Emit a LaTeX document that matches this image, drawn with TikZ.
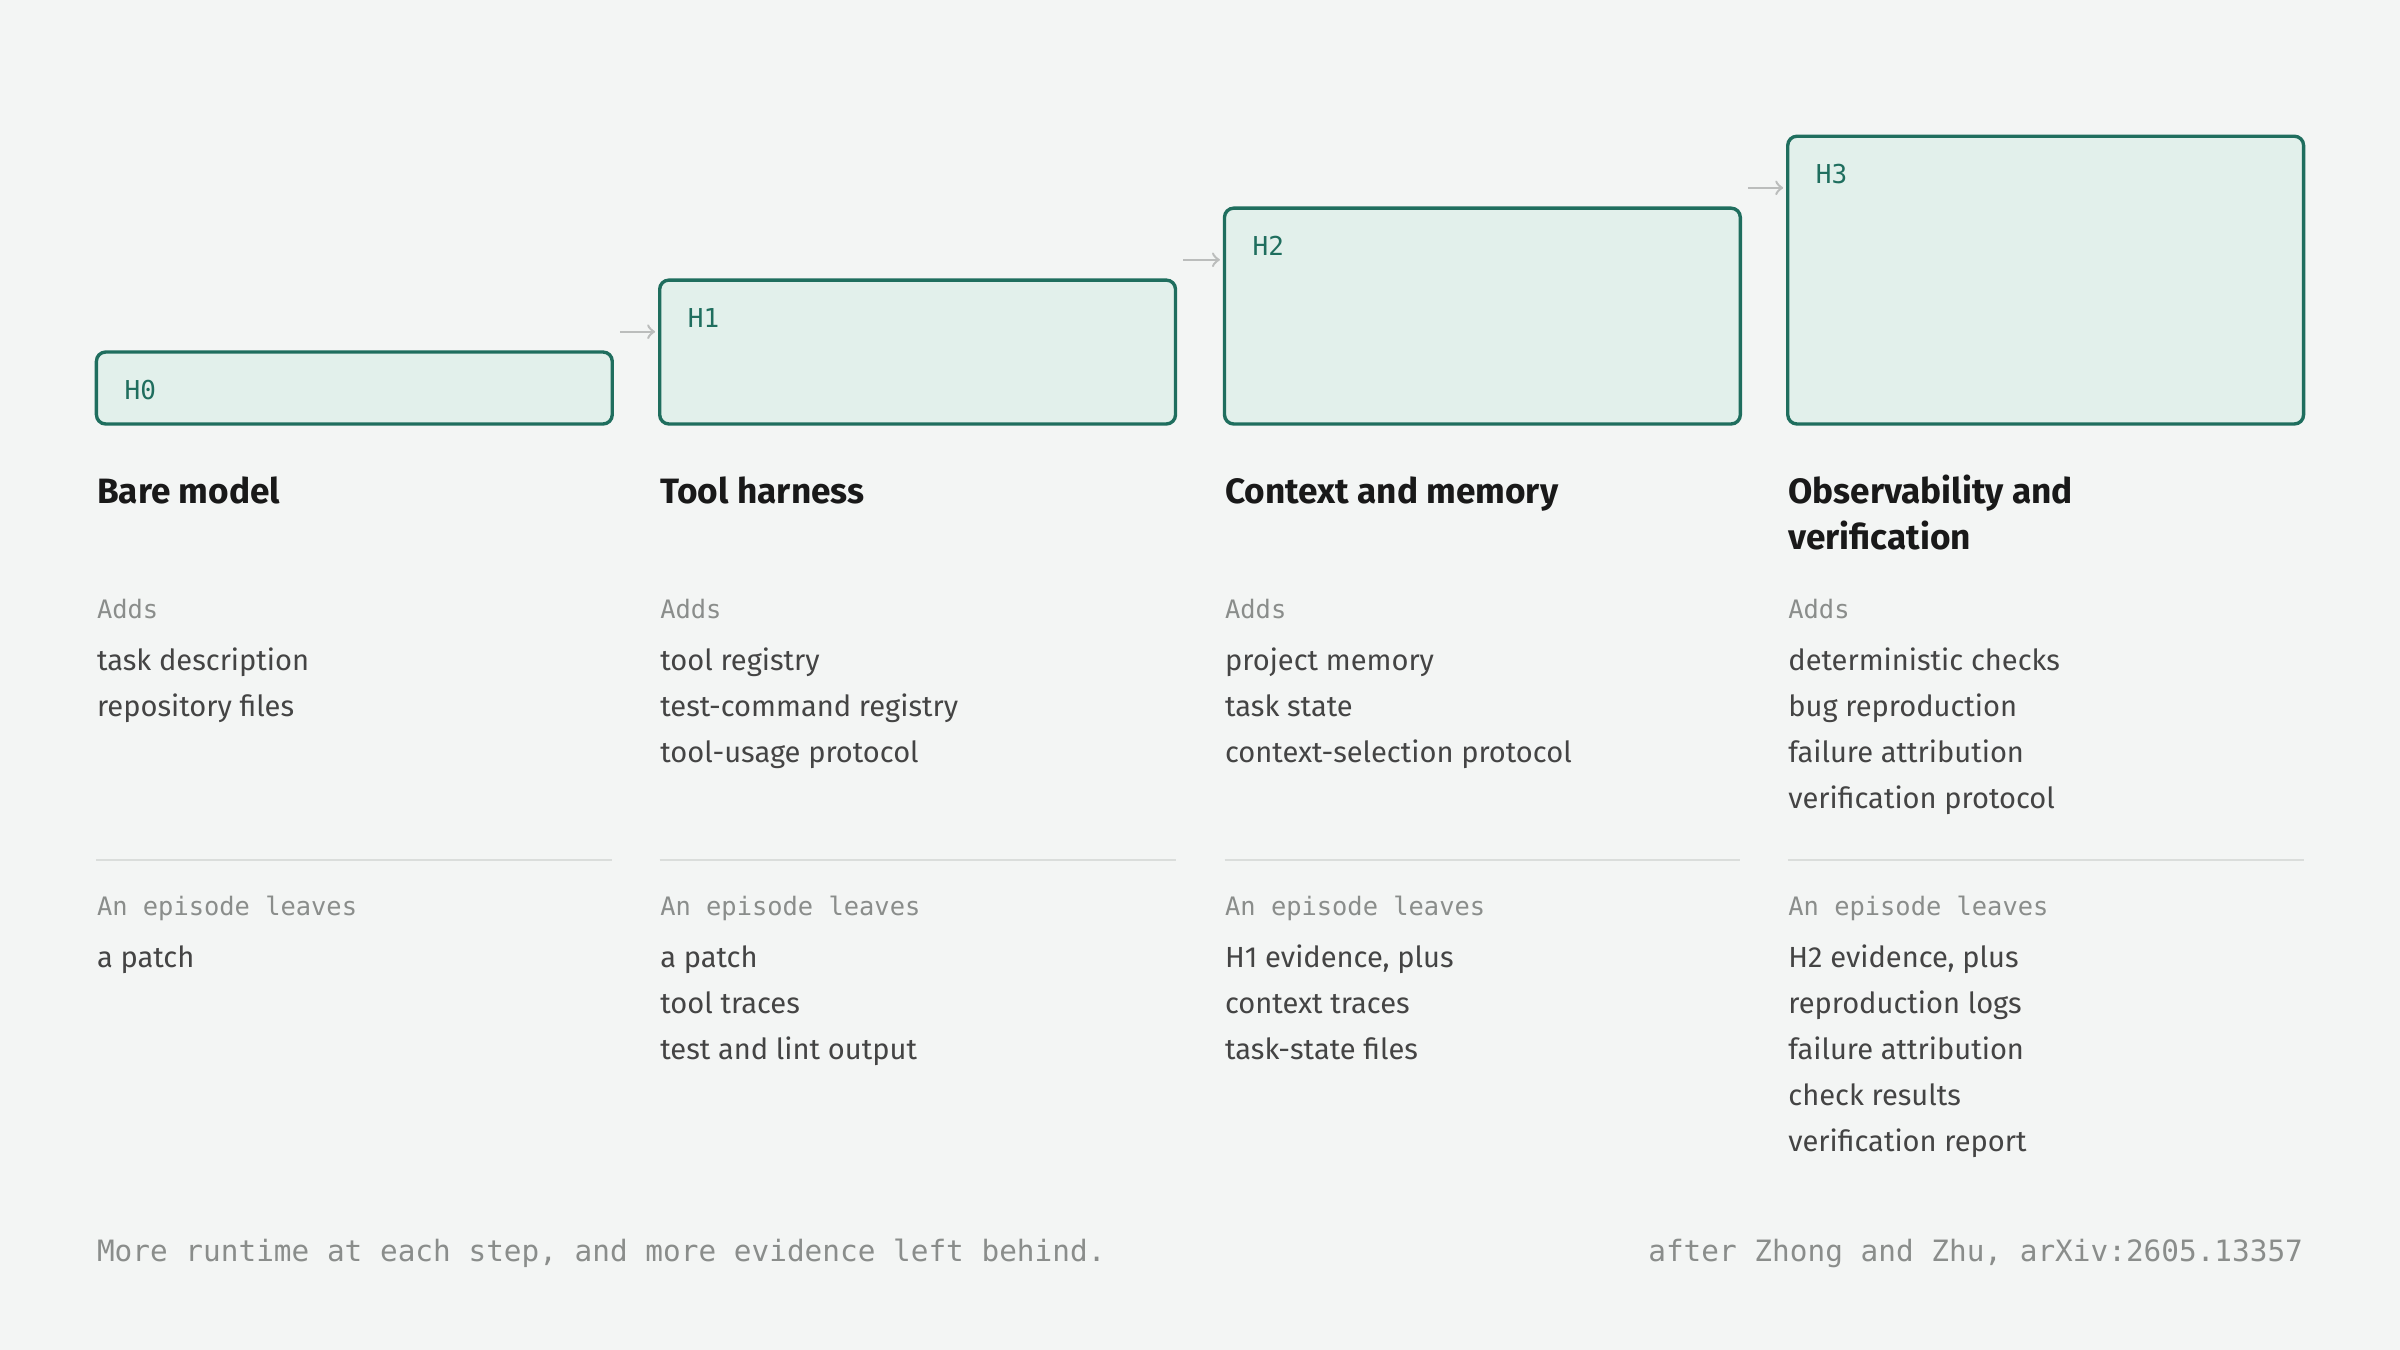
\documentclass[tikz,border=0pt]{standalone}
\usepackage{fontspec}
\setmainfont{Fira Sans}
\setmonofont{DejaVu Sans Mono}
\usetikzlibrary{calc}
\definecolor{bgcol}{HTML}{F3F5F4}
\definecolor{boxfill}{HTML}{E2F0EB}
\definecolor{boxline}{HTML}{1F6E5E}
\definecolor{itemcol}{HTML}{444444}
\definecolor{greycol}{HTML}{8A8D8B}
\definecolor{rulecol}{HTML}{DADDDB}
\definecolor{arrowcol}{HTML}{BBBDBC}
\begin{document}
\begin{tikzpicture}[x=0.5pt,y=-0.5pt]

	% styles
	\tikzstyle{stage}=[draw=boxline,fill=boxfill,line width=1.1pt,rounded corners=3pt];
	\tikzstyle{tag}=[anchor=base west,inner sep=0pt,text=boxline,font=\ttfamily\fontsize{8.5}{10}\selectfont];
	\tikzstyle{title}=[anchor=base west,inner sep=0pt,align=left,font=\bfseries\fontsize{11.5}{15}\selectfont,text=black!90];
	\tikzstyle{caption}=[anchor=base west,inner sep=0pt,text=greycol,font=\ttfamily\fontsize{8.3}{10}\selectfont];
	\tikzstyle{items}=[anchor=base west,inner sep=0pt,align=left,text=itemcol,font=\fontsize{9.5}{15}\selectfont];
	\tikzstyle{nextstage}=[->,arrowcol,line width=0.8pt,shorten <=2.5pt,shorten >=1.5pt];

	% background
	\fill[bgcol] (0,0) rectangle (1568,882);
	\useasboundingbox (0,0) rectangle (1568,882);

	% stage boxes and their tags
	\draw[style=stage] (63,230) rectangle (400,277);
	\draw[style=stage] (431,183) rectangle (768,277);
	\draw[style=stage] (800,136) rectangle (1137,277);
	\draw[style=stage] (1168,89) rectangle (1505,277);
	\coordinate (h0) at (400,277);
	\coordinate (h1) at (431,183);
	\coordinate (h1r) at (768,277);
	\coordinate (h2) at (800,136);
	\coordinate (h2r) at (1137,277);
	\coordinate (h3) at (1168,89);
	\node[style=tag] (t0) at (81,261) {H0};
	\node[style=tag] (t1) at (449,214) {H1};
	\node[style=tag] (t2) at (818,167) {H2};
	\node[style=tag] (t3) at (1186,120) {H3};

	% steps
	\draw[style=nextstage] ($(h0 |- t1.mid)+(0,8)$) -- ($(h1 |- t1.mid)+(0,8)$);
	\draw[style=nextstage] ($(h1r |- t2.mid)+(0,8)$) -- ($(h2 |- t2.mid)+(0,8)$);
	\draw[style=nextstage] ($(h2r |- t3.mid)+(0,8)$) -- ($(h3 |- t3.mid)+(0,8)$);

	% titles (base = last line)
	\node[style=title] (n0) at (63,329) {Bare model};
	\node[style=title] (n1) at (431,329) {Tool harness};
	\node[style=title] (n2) at (800,329) {Context and memory};
	\node[style=title] (n3) at (1168,359) {Observability and\\verification};

	% adds
	\foreach \x/\nm in {63/a0,431/a1,800/a2,1168/a3}{
		\node[style=caption] (\nm) at (\x,404) {Adds};
		\draw[rulecol,line width=0.6pt] (\x,562) -- ++(337,0);
		\node[style=caption] (e\nm) at (\x,598) {An episode leaves};
	}
	\node[style=items] (i0) at (63,468) {task description\\repository files};
	\node[style=items] (i1) at (431,498) {tool registry\\test-command registry\\tool-usage protocol};
	\node[style=items] (i2) at (800,498) {project memory\\task state\\context-selection protocol};
	\node[style=items] (i3) at (1168,528) {deterministic checks\\bug reproduction\\failure attribution\\verification protocol};

	% episode leaves
	\node[style=items] (l0) at (63,632) {a patch};
	\node[style=items] (l1) at (431,692) {a patch\\tool traces\\test and lint output};
	\node[style=items] (l2) at (800,692) {H1 evidence, plus\\context traces\\task-state files};
	\node[style=items] (l3) at (1168,752) {H2 evidence, plus\\reproduction logs\\failure attribution\\check results\\verification report};

	% footer
	\node[anchor=base west,inner sep=0pt,text=greycol,font=\ttfamily\fontsize{9.6}{12}\selectfont] (foot) at (63,824) {More runtime at each step, and more evidence left behind.};
	\node[anchor=base east,inner sep=0pt,text=greycol,font=\ttfamily\fontsize{9.6}{12}\selectfont] (cite) at (1505,824) {after Zhong and Zhu, arXiv:2605.13357};

\end{tikzpicture}
\end{document}
